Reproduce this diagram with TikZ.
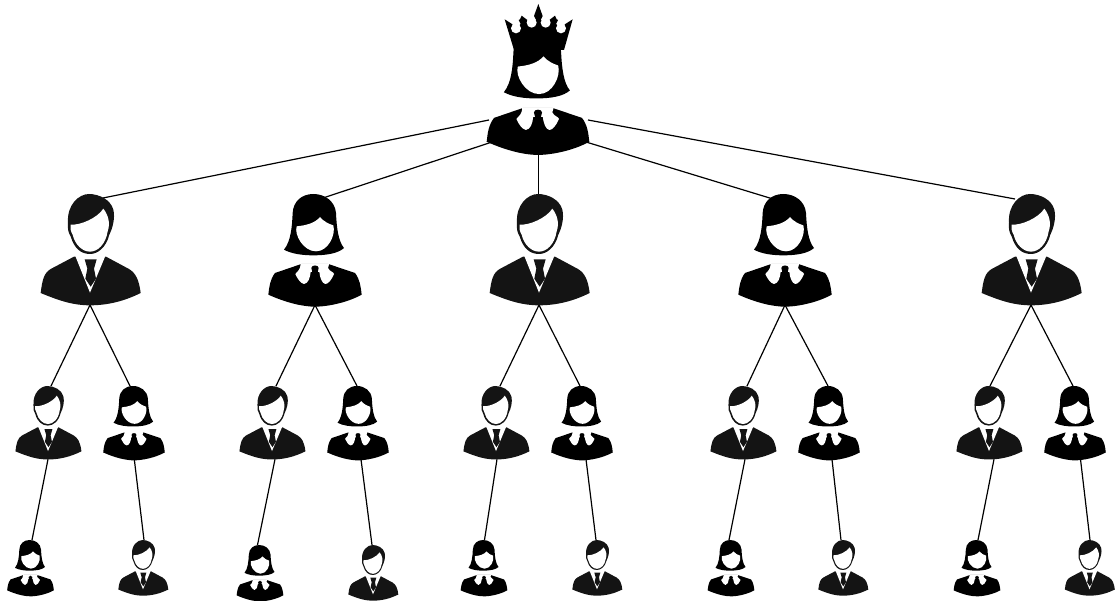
\documentclass[tikz,border=0pt]{standalone}
\usetikzlibrary{backgrounds,calc}
\definecolor{mancol}{HTML}{141414}
\tikzset{
  link/.style={draw=black,line width=1.2pt},
  manicon/.pic={
    \begin{scope}[scale=1/3,shift={(-178,-28)}]
      \fill[mancol] (112,115) .. controls (108,60) and (145,28) .. (175,28) .. controls (205,28) and (240,45) .. (248,75) .. controls (254,100) and (246,130) .. (236,150) .. controls (226,190) and (200,208) .. (178,208) .. controls (150,208) and (130,190) .. (120,155) .. controls (113,145) and (110,130) .. (112,115) -- cycle;
      \fill[white] (120,120) .. controls (150,122) and (200,100) .. (218,72) .. controls (232,90) and (240,115) .. (231,140) .. controls (225,180) and (200,201) .. (178,201) .. controls (155,201) and (133,180) .. (126,150) .. controls (120,140) and (118,130) .. (120,120) -- cycle;
      \fill[mancol] (130,216) -- (60,253) .. controls (40,265) and (35,285) .. (30,325) .. controls (90,350) and (130,362) .. (178,362) .. controls (230,362) and (280,350) .. (330,325) .. controls (325,285) and (315,265) .. (295,253) -- (226,216) -- cycle;
      \fill[white] (134,214) -- (178,324) -- (224,214) -- cycle;
      \fill[mancol] (162,224) -- (198,224) -- (190,252) -- (196,282) -- (180,306) -- (164,282) -- (170,252) -- cycle;
    \end{scope}
    \coordinate (top) at (0,0);
    \coordinate (tl) at (-16,5);
    \coordinate (tr) at (13,4);
    \coordinate (bot) at (0,111);
  },
  womanicon/.pic={
    \begin{scope}[scale=1/3,shift={(-165,-28)}]
      \fill[black] (160,28) .. controls (125,28) and (100,50) .. (98,85) .. controls (96,130) and (92,170) .. (72,195) .. controls (95,208) and (130,212) .. (160,212) .. controls (200,212) and (235,206) .. (252,190) .. controls (235,170) and (230,130) .. (228,85) .. controls (225,50) and (195,28) .. (160,28) -- cycle;
      \fill[white] (110,125) .. controls (140,122) and (165,115) .. (180,97) .. controls (190,110) and (207,118) .. (220,122) .. controls (228,150) and (205,200) .. (168,200) .. controls (130,200) and (102,150) .. (110,125) -- cycle;
      \fill[black] (124,238) -- (45,265) .. controls (30,285) and (28,305) .. (25,330) .. controls (80,355) and (130,366) .. (165,366) .. controls (200,366) and (260,355) .. (305,330) .. controls (302,305) and (300,285) .. (285,265) -- (205,238) -- cycle;
      \fill[white] (122,236) -- (208,236) -- (204,250) .. controls (210,262) and (222,262) .. (222,268) .. controls (215,285) and (205,298) .. (196,298) .. controls (186,296) and (180,280) .. (178,262) -- (152,262) .. controls (150,280) and (145,296) .. (132,298) .. controls (122,296) and (112,282) .. (106,268) .. controls (112,260) and (122,256) .. (122,236) -- cycle;
      \fill[black] (154,250) .. controls (154,240) and (176,240) .. (176,250) .. controls (176,258) and (170,264) .. (172,275) -- (182,315) -- (148,315) -- (158,275) .. controls (160,264) and (154,258) .. (154,250) -- cycle;
    \end{scope}
    \coordinate (top) at (0,0);
    \coordinate (tl) at (-12,5);
    \coordinate (tr) at (8,4);
    \coordinate (bot) at (0,111);
  },
  crownicon/.pic={
    \begin{scope}[scale=1/3]
      \fill[black] (104,58) -- (126,72) -- (138,85) -- (152,72) -- (146,60) -- (150,58) -- (155,47) -- (172,60) -- (170,66) -- (185,68) -- (198,60) -- (192,48) -- (205,12) -- (218,48) -- (212,60) -- (227,68) -- (240,66) -- (238,60) -- (255,47) -- (260,58) -- (264,60) -- (258,72) -- (273,85) -- (286,72) -- (308,58) -- (282,150) -- (132,150) -- cycle;
      \fill[white] (138,85) circle (15) (185,68) circle (15) (227,68) circle (15) (273,85) circle (15);
    \end{scope}
  }
}
\begin{document}
\begin{tikzpicture}[x=1pt,y=-1pt]
\useasboundingbox (0,0) rectangle (1120,601);
% queen
\pic (q) at (538,31) [scale=1.1] {womanicon};
\pic (qc) at (470,0) {crownicon};
\coordinate (qa) at (489,120);
\coordinate (qb) at (492,142);
\coordinate (qc0) at (538.5,150);
\coordinate (qd) at (586,142);
\coordinate (qe) at (588,120);
% level 2
\pic (a) at (90,194) {manicon};
\pic (b) at (315,194) {womanicon};
\pic (c) at (539,194) {manicon};
\pic (d) at (785,194) {womanicon};
\pic (e) at (1031,194) {manicon};
% level 3
\foreach \n/\mx/\wx in {a/48/134,b/272/358,c/496/582,d/743/829,e/989/1075}{
  \pic (\n m) at (\mx,386) [scale=.66] {manicon};
  \pic (\n w) at (\wx,386) [scale=.66] {womanicon};
}
% level 4
\foreach \n/\wx/\mx/\wy in {a/30.5/143/540,b/260/373/545,c/484/597/540,d/731/843/540,e/977/1089.5/540}{
  \pic (\n s) at (\wx,\wy) [scale=.5] {womanicon};
  \pic (\n t) at (\mx,\wy) [scale=.5] {manicon};
}
\begin{scope}[on background layer]
  \draw[link] (qa) -- (atr);
  \draw[link] (qb) -- (btr);
  \draw[link] (qc0) -- ($(ctop)+(-0.5,0)$);
  \draw[link] (qd) -- (dtl);
  \draw[link] (qe) -- (etl);
  % offsets: man top, woman top, man bottom, small woman top, woman bottom, small man top
  \foreach \n/\mt/\wt/\mb/\st/\wb/\tt in {a/3/-4/0/1.5/0.3/1,b/4/-1/3/-2.5/3/-1,c/4/-2/1/0.5/4/-1,d/4/-1/2/-2/3/-2,e/1/-2/5/1/5.5/0.5}{
    \draw[link] (\n bot) -- ($(\n mtop)+(\mt,0)$);
    \draw[link] (\n bot) -- ($(\n wtop)+(\wt,0)$);
    \draw[link] ($(\n mbot)+(\mb,0)$) -- ($(\n stop)+(\st,0)$);
    \draw[link] ($(\n wbot)+(\wb,0)$) -- ($(\n ttop)+(\tt,0)$);
  }
\end{scope}
\end{tikzpicture}
\end{document}
